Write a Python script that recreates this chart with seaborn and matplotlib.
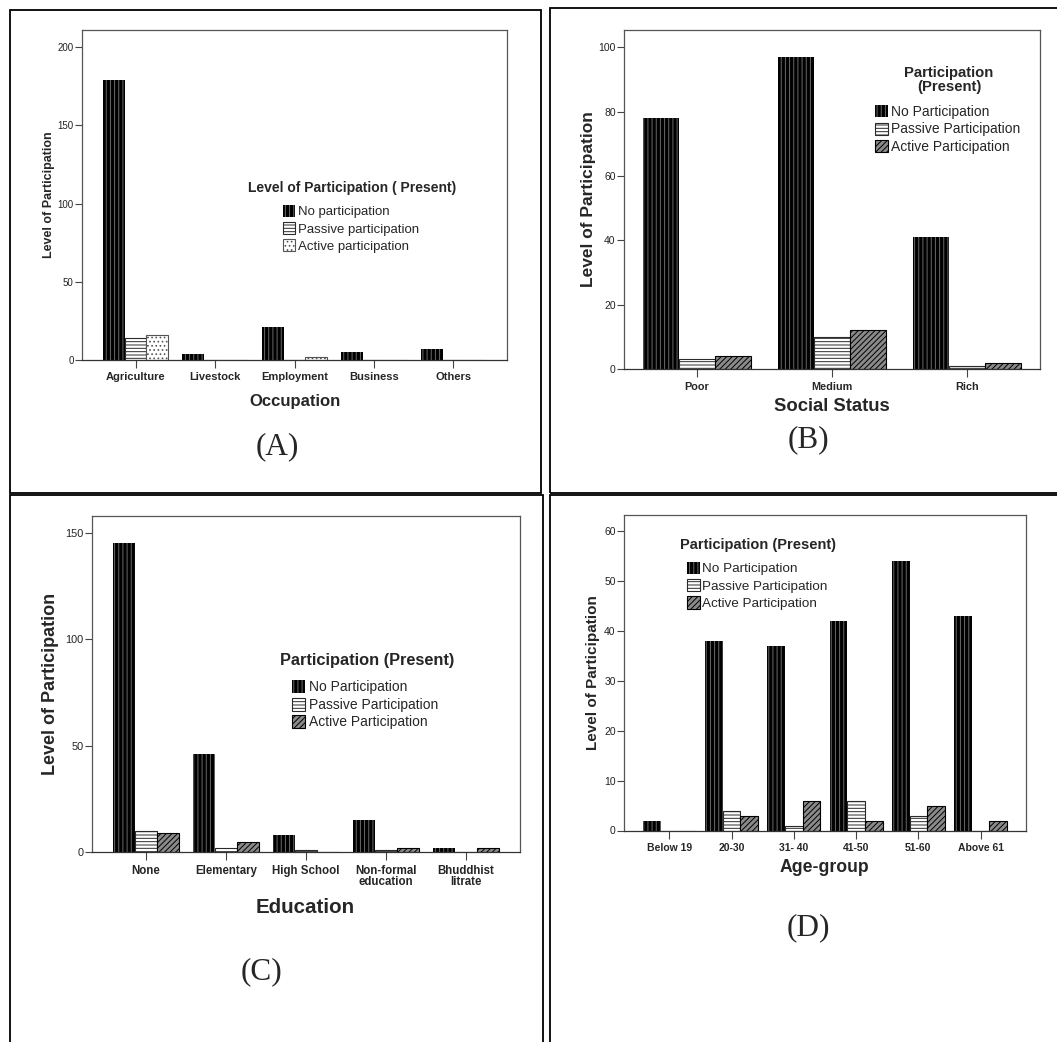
import numpy as np
import pandas as pd
import matplotlib
matplotlib.use("Agg")
import matplotlib.pyplot as plt
import matplotlib.patches as mpatches
import seaborn as sns

# ---------------- data ----------------
occ_cats = ["Agriculture", "Livestock", "Employment", "Business", "Others"]
occ_series = ["No participation", "Passive participation", "Active participation"]
occ_no = [179, 4, 21, 5, 7]
occ_passive = [14, 0, 0, 0, 0]
occ_active = [16, 0, 2, 0, 0]

part_series = ["No Participation", "Passive Participation", "Active Participation"]

status_cats = ["Poor", "Medium", "Rich"]
status_no = [78, 97, 41]
status_passive = [3, 10, 1]
status_active = [4, 12, 2]

edu_cats = ["None", "Elementary", "High School", "Non-formal\neducation", "Bhuddhist\nlitrate"]
edu_no = [145, 46, 8, 15, 2]
edu_passive = [10, 2, 1, 1, 0]
edu_active = [9, 5, 0, 2, 2]

age_cats = ["Below 19", "20-30", "31- 40", "41-50", "51-60", "Above 61"]
age_no = [2, 38, 37, 42, 54, 43]
age_passive = [0, 4, 1, 6, 3, 0]
age_active = [0, 3, 6, 2, 5, 2]

occ_yticks = [0, 50, 100, 150, 200]
status_yticks = [0, 20, 40, 60, 80, 100]
edu_yticks = [0, 50, 100, 150]
age_yticks = [0, 10, 20, 30, 40, 50, 60]

# ---------------- style ----------------
sns.set_theme(style="white")
plt.rcParams["font.family"] = ["Liberation Sans", "DejaVu Sans"]
plt.rcParams["hatch.linewidth"] = 0.7

W, H = 1057, 1042
fig = plt.figure(figsize=(W / 100, H / 100), dpi=100)
fig.patch.set_facecolor("white")

STYLE_NO = dict(facecolor="black", edgecolor="#6a6a6a", hatch="||||", linewidth=0)
STYLE_PASSIVE = dict(facecolor="white", edgecolor="#2a2a2a", hatch="-----", linewidth=0.8)
STYLE_ACTIVE_DOTS = dict(facecolor="white", edgecolor="#555555", hatch="....", linewidth=0.8)
STYLE_ACTIVE_DIAG = dict(facecolor="#8a8a8a", edgecolor="black", hatch="//////", linewidth=0.8)


def px_axes(x0, y0, x1, y1):
    return fig.add_axes([x0 / W, 1 - y1 / H, (x1 - x0) / W, (y1 - y0) / H])


def box(x0, y0, x1, y1):
    fig.add_artist(mpatches.Rectangle((x0 / W, 1 - y1 / H), (x1 - x0) / W, (y1 - y0) / H,
                                      transform=fig.transFigure, fill=False,
                                      edgecolor="black", linewidth=1.3, clip_on=False))


def panel(ax, cats, series, values, styles, width, xpad, ytop, yticks,
          ytick_fs, xtick_fs, xlabel, xlabel_fs, xlabel_xy, ylabel_fs, ylabel_x,
          leg_anchor, leg_fs, leg_title, title_xy, title_fs, hlen, hheight, hpad, lspace):
    rows = []
    for s, vals in zip(series, values):
        for c, v in zip(cats, vals):
            rows.append({"cat": c, "series": s, "value": v})
    df = pd.DataFrame(rows)
    sns.barplot(data=df, x="cat", y="value", hue="series", order=cats, hue_order=series,
                width=width, dodge=True, errorbar=None, legend=False, ax=ax,
                palette=["black", "white", "white"], saturation=1)
    for cont, st in zip(ax.containers, styles):
        for p in cont:
            p.set_facecolor(st["facecolor"])
            p.set_edgecolor(st["edgecolor"])
            p.set_hatch(st["hatch"])
            p.set_linewidth(st["linewidth"])
    n = len(cats)
    ax.set_xlim(-xpad, n - 1 + xpad)
    ax.set_ylim(0, ytop)
    ax.set_yticks(yticks)
    ax.set_yticklabels([str(t) for t in yticks])
    ax.tick_params(axis="y", direction="out", length=5, width=0.8, color="#444444",
                   labelsize=ytick_fs, pad=1, left=True, right=False, labelcolor="#222222")
    ax.tick_params(axis="x", direction="out", length=6, width=0.8, color="#444444",
                   labelsize=xtick_fs, pad=3, bottom=True, top=False)
    for lbl in ax.get_xticklabels():
        lbl.set_fontweight("bold")
        lbl.set_linespacing(0.95)
    for sp in ax.spines.values():
        sp.set_visible(True)
        sp.set_color("#555555")
        sp.set_linewidth(0.9)
    ax.spines["bottom"].set_color("#333333")
    ax.set_facecolor("white")
    ax.grid(False)
    ax.set_xlabel(xlabel, fontsize=xlabel_fs, fontweight="bold")
    ax.xaxis.set_label_coords(*xlabel_xy)
    ax.xaxis.label.set_va("center")
    ax.set_ylabel("Level of Participation", fontsize=ylabel_fs, fontweight="bold")
    ax.yaxis.set_label_coords(ylabel_x, 0.5)
    ax.yaxis.label.set_va("center")
    handles = [mpatches.Patch(facecolor=st["facecolor"], edgecolor=st["edgecolor"],
                              hatch=st["hatch"], linewidth=st["linewidth"], label=s)
               for st, s in zip(styles, series)]
    ax.legend(handles=handles, loc="upper left",
              bbox_to_anchor=(leg_anchor[0] / W, 1 - leg_anchor[1] / H),
              bbox_transform=fig.transFigure, frameon=False, fontsize=leg_fs,
              borderpad=0, borderaxespad=0, handlelength=hlen, handleheight=hheight,
              handletextpad=hpad, labelspacing=lspace)
    fig.text(title_xy[0] / W, 1 - title_xy[1] / H, leg_title, ha="center", va="center",
             fontsize=title_fs, fontweight="bold", linespacing=1.0)


# ---------------- panel boxes ----------------
box(10, 10, 541, 493)
box(550, 8, 1062, 493)
box(10, 495, 543, 1048)
box(550, 495, 1062, 1048)

# ---------------- (A) ----------------
axA = px_axes(82, 30, 507, 360)
panel(axA, occ_cats, occ_series, [occ_no, occ_passive, occ_active],
      [STYLE_NO, STYLE_PASSIVE, STYLE_ACTIVE_DOTS], 0.82, 0.675, 211, occ_yticks,
      7, 8, "Occupation", 12, (0.501, -0.127), 9, -0.078,
      (283, 205), 9.5, "Level of Participation ( Present)", (352, 188), 10,
      0.9, 1.0, 0.23, 0.28)

# ---------------- (B) ----------------
axB = px_axes(624, 30, 1040, 369)
panel(axB, status_cats, part_series, [status_no, status_passive, status_active],
      [STYLE_NO, STYLE_PASSIVE, STYLE_ACTIVE_DIAG], 0.8, 0.54, 105.4, status_yticks,
      7.5, 7.8, "Social Status", 13.3, (0.5, -0.112), 12.5, -0.0865,
      (875, 105), 10, "Participation\n(Present)", (949, 80), 10.7,
      0.95, 0.95, 0.22, 0.25)

# ---------------- (C) ----------------
axC = px_axes(92, 515.6, 520, 852.3)
panel(axC, edu_cats, part_series, [edu_no, edu_passive, edu_active],
      [STYLE_NO, STYLE_PASSIVE, STYLE_ACTIVE_DIAG], 0.83, 0.675, 158.1, edu_yticks,
      7.8, 8.3, "Education", 14.8, (0.499, -0.165), 13, -0.098,
      (292, 680), 10, "Participation (Present)", (367.6, 660.4), 11.8,
      0.95, 1.05, 0.29, 0.25)

# ---------------- (D) ----------------
axD = px_axes(624, 514.9, 1026, 830.5)
panel(axD, age_cats, part_series, [age_no, age_passive, age_active],
      [STYLE_NO, STYLE_PASSIVE, STYLE_ACTIVE_DIAG], 0.85, 0.73, 63.2, age_yticks,
      7.5, 7.5, "Age-group", 12.7, (0.499, -0.1157), 11, -0.077,
      (687, 561.5), 9.7, "Participation (Present)", (757.5, 545.5), 10.5,
      0.95, 1.05, 0.15, 0.27)

# ---------------- panel letters ----------------
for txt, x, y in [("(A)", 277, 447), ("(B)", 808, 440), ("(C)", 261, 971.6), ("(D)", 808, 928)]:
    fig.text(x / W, 1 - y / H, txt, ha="center", va="center", fontsize=22.5,
             family=["Liberation Serif", "DejaVu Serif"])

fig.savefig("out.png", dpi=100, facecolor="white")
